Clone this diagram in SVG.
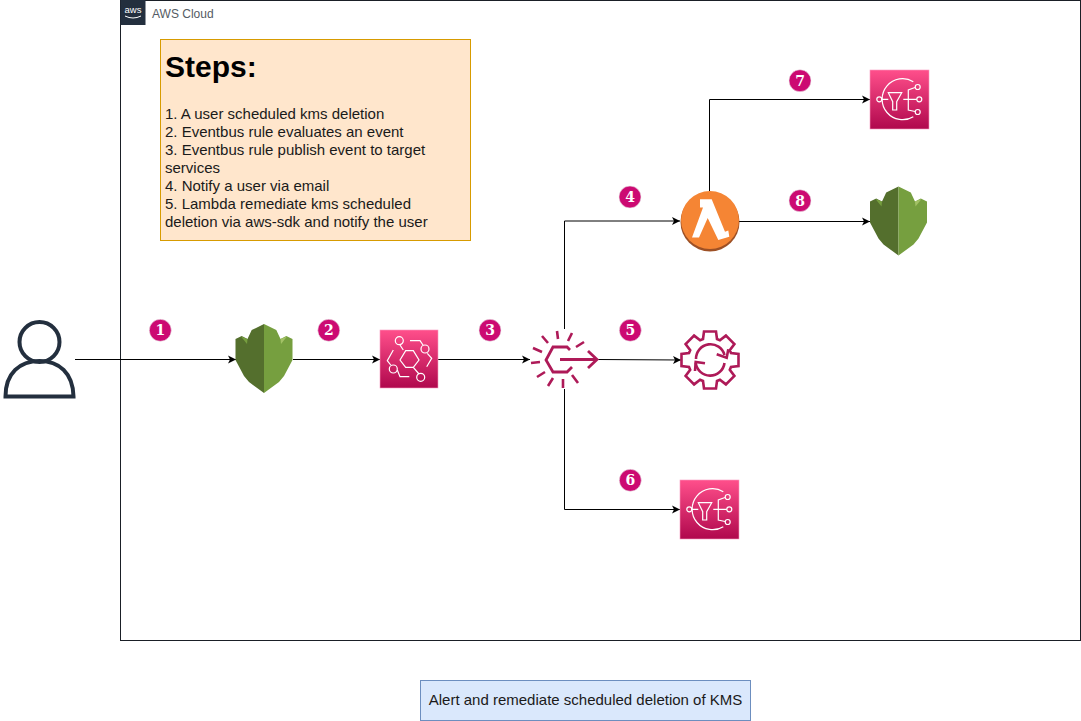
<svg xmlns="http://www.w3.org/2000/svg" xmlns:xlink="http://www.w3.org/1999/xlink" width="1081" height="721" viewBox="0 0 1081 721">
<style>
.ln{fill:none;stroke:#000;stroke-width:1}
.sans{font-family:"Liberation Sans",Arial,sans-serif}
.step{font-size:15px;fill:#1a1a1a}
.num{font-family:"DejaVu Serif","Liberation Serif",serif;font-weight:bold;font-size:14px;fill:#fff;text-anchor:middle}
.w{fill:none;stroke:#fff;stroke-width:1.2}
.m{fill:none;stroke:#ae1a58;stroke-width:2.6}
</style>
<defs>
<marker id="arr" markerUnits="userSpaceOnUse" markerWidth="9" markerHeight="9" refX="8" refY="4.5" orient="auto"><path d="M0 0.5L8 4.5L0 8.5L2 4.5Z" fill="#000"/></marker>
<linearGradient id="pink" x1="0" y1="1" x2="0" y2="0"><stop offset="0" stop-color="#B0084D"/><stop offset="1" stop-color="#FF4F8B"/></linearGradient>
<g id="shield">
<path d="M0 -35L-12.300 -29L-16.500 -20L-22.300 -23L-28.500 -20L-28.500 1L-20 17L-15 23L0 34Z" fill="#546F2D"/>
<path d="M0 -35L12.300 -29L16.500 -20L22.300 -23L28.500 -20L28.500 1L20 17L15 23L0 34Z" fill="#769F3F"/>
<path d="M-23 -22.500L-16.500 -20L-17 -15Z" fill="#769F3F"/>
<path d="M23 -22.500L16.500 -20L17 -15Z" fill="#A3C266"/>
</g>
<g id="sns">
<rect x="0" y="0" width="59" height="59" fill="url(#pink)" stroke="#f79ac0" stroke-width="0.6"/>
<path class="w" d="M43.300 11.700A20.500 20.500 0 1 0 43.300 46.700"/>
<circle class="w" cx="9.300" cy="29.300" r="2.500"/>
<path class="w" d="M11.800 29.300H18.300M33.300 29.300H46.800M38.300 29.300V20L45 17.500M38.300 29.300V40L45 41.500"/>
<path class="w" d="M18.300 22.700H31.700L26.700 31.700V40H22.700V31.700Z"/>
<circle class="w" cx="47.700" cy="17" r="2.500"/><circle class="w" cx="49.300" cy="29.300" r="2.500"/><circle class="w" cx="47.700" cy="42" r="2.500"/>
</g>
<g id="badge"><circle r="11" fill="#cc0a72" stroke="#e9e9e9" stroke-width="0.6"/></g>
</defs>
<rect width="1081" height="721" fill="#fff"/>
<g id="cloud">
<rect x="120.500" y="0.500" width="960" height="640" fill="none" stroke="#1a1f26" stroke-width="1"/>
<rect x="120.500" y="0" width="25" height="25" fill="#232F3E"/>
<text x="133" y="12.500" class="sans" font-size="9.500" fill="#fff" text-anchor="middle">aws</text>
<path d="M125 16Q133 20 141 16" fill="none" stroke="#fff" stroke-width="1"/>
<text x="152" y="18" class="sans" font-size="12" fill="#545B64">AWS Cloud</text>
</g>
<g id="steps">
<rect x="160.500" y="39.500" width="310" height="201" fill="#FFE6CC" stroke="#D79B00"/>
<text x="165" y="77" class="sans" font-size="30" font-weight="bold" fill="#000">Steps:</text>
<g class="sans step">
<text x="165" y="119">1. A user scheduled kms deletion</text>
<text x="165" y="137">2. Eventbus rule evaluates an event</text>
<text x="165" y="155">3. Eventbus rule publish event to target</text>
<text x="165" y="173">services</text>
<text x="165" y="191">4. Notify a user via email</text>
<text x="165" y="209">5. Lambda remediate kms scheduled</text>
<text x="165" y="227">deletion via aws-sdk and notify the user</text>
</g>
</g>
<g id="connectors">
<path class="ln" d="M75 359.500H236" marker-end="url(#arr)"/>
<path class="ln" d="M293 359.500H380" marker-end="url(#arr)"/>
<path class="ln" d="M438 359.500H530" marker-end="url(#arr)"/>
<path class="ln" d="M564.500 329V221H680" marker-end="url(#arr)"/>
<path class="ln" d="M598 359.500L681 360" marker-end="url(#arr)"/>
<path class="ln" d="M564.500 389V509.500H680" marker-end="url(#arr)"/>
<path class="ln" d="M709.500 191V99.500H870" marker-end="url(#arr)"/>
<path class="ln" d="M739 221.500H870" marker-end="url(#arr)"/>
</g>
<g id="user" fill="none" stroke="#232F3E" stroke-width="4">
<circle cx="39.500" cy="342" r="20"/>
<path d="M5.500 396.500C5.500 373 20 361 39.500 361C59 361 73 373 73.500 396.500Z"/>
</g>
<g id="kms1"><use href="#shield" xlink:href="#shield" transform="translate(264,359)"/></g>
<g id="eventbridge">
<rect x="380" y="330" width="58" height="58" fill="url(#pink)" stroke="#f79ac0" stroke-width="0.6"/>
<g transform="translate(380,330)">
<path class="w" d="M20 30L25.700 20.700H33.300L39 30L33.300 37.300H25.700Z"/>
<circle class="w" cx="19.300" cy="10.700" r="4"/><circle class="w" cx="45" cy="19" r="4"/><circle class="w" cx="13.300" cy="39" r="4"/><circle class="w" cx="40.700" cy="47.300" r="4"/>
<path class="w" d="M30 10.700H40L43 15M47.300 23.300L51.700 28.300L46.700 36.700M13.300 20L7.300 30.700L10.700 35M17.300 40L20 46.700H29.300M33.300 37.300L39 44M23.300 20L20 15"/>
</g>
</g>
<g id="rule" fill="none" stroke="#ae1a58" stroke-width="2.800">
<path d="M570 350L567 347H553L546 360L553 372H567L572 367"/>
<path d="M560 359.500H597M588 351L597 359.500L588 368"/>
<path d="M557 331L558 339M572 333L568 341M584 342L576 347M542 336L548 343M533 348L542 352M531 363L540 362M537 377L545 372M548 386L553 378M563 388L563 379M578 383L572 375" stroke-width="2.600"/>
</g>
<g id="config" class="m" transform="translate(710,360)">
<path class="m" d="M-7 -21L-6 -28.500H6L7 -21L9.900 -19.800L15.900 -24.400L24.400 -15.900L19.800 -9.900L21 -7L28.500 -6V6L21 7L19.800 9.900L24.400 15.900L15.900 24.400L9.900 19.800L7 21L6 28.500H-6L-7 21L-9.900 19.800L-15.900 24.400L-24.400 15.900L-19.800 9.900L-21 7L-28.500 6V-6L-21 -7L-19.800 -9.900L-24.400 -15.900L-15.900 -24.400L-9.900 -19.800Z"/>
<path class="m" d="M-14 -1A14.500 14.500 0 0 1 14.500 -5M14.500 3A14.500 14.500 0 0 1 -14.300 2.700"/>
<path class="m" d="M6.700 -5.700L16.700 -2.300L18.300 -10.700M-5 3.300L-14.300 2L-15 11" stroke-width="2.200"/>
</g>
<g id="sns1"><use href="#sns" xlink:href="#sns" transform="translate(680,480)"/></g>
<g id="sns2"><use href="#sns" xlink:href="#sns" transform="translate(870,70)"/></g>
<g id="lambda">
<circle cx="710" cy="222" r="29.500" fill="#9D5025"/>
<circle cx="710" cy="220" r="29" fill="#F58534"/>
<path d="M700 199.300H711.700L725 231.700L728.300 230.500L729.300 236.700L718.300 240L707.700 218L699 237.500H692L703 207.500H700Z" fill="#fff"/>
</g>
<g id="kms2"><use href="#shield" xlink:href="#shield" transform="translate(898.500,221.500)"/></g>
<g id="badges">
<g transform="translate(160.300,330.300)"><use href="#badge" xlink:href="#badge"/><text class="num" y="5">1</text></g>
<g transform="translate(328.800,330.300)"><use href="#badge" xlink:href="#badge"/><text class="num" y="5">2</text></g>
<g transform="translate(490,330.300)"><use href="#badge" xlink:href="#badge"/><text class="num" y="5">3</text></g>
<g transform="translate(630,197)"><use href="#badge" xlink:href="#badge"/><text class="num" y="5">4</text></g>
<g transform="translate(630.300,330.300)"><use href="#badge" xlink:href="#badge"/><text class="num" y="5">5</text></g>
<g transform="translate(630.300,480.300)"><use href="#badge" xlink:href="#badge"/><text class="num" y="5">6</text></g>
<g transform="translate(800,80.700)"><use href="#badge" xlink:href="#badge"/><text class="num" y="5">7</text></g>
<g transform="translate(800,200.700)"><use href="#badge" xlink:href="#badge"/><text class="num" y="5">8</text></g>
</g>
<g id="title">
<rect x="420.500" y="680.500" width="330" height="40" fill="#DAE8FC" stroke="#6C8EBF"/>
<text x="585.500" y="705" class="sans" font-size="15" fill="#1a1a1a" text-anchor="middle">Alert and remediate scheduled deletion of KMS</text>
</g>
</svg>
